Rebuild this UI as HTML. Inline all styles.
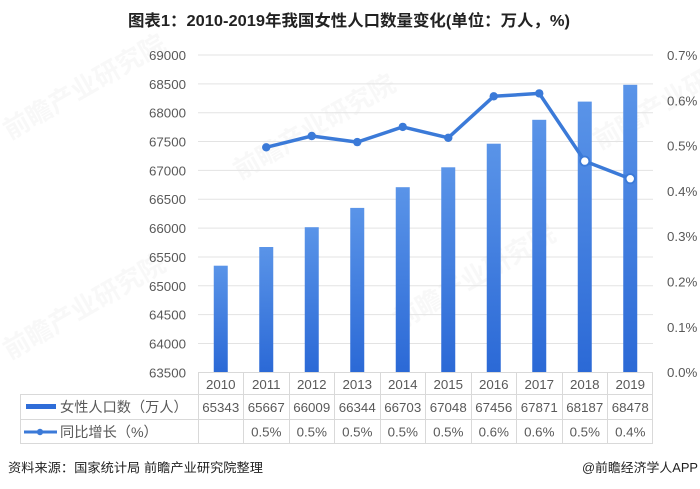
<!DOCTYPE html>
<html><head><meta charset="utf-8"><style>
html,body{margin:0;padding:0;background:#fff;}
svg{display:block;}
text{font-family:"Liberation Sans","Noto Sans CJK SC",sans-serif;}
</style></head><body>
<svg width="700" height="489" viewBox="0 0 700 489" xmlns="http://www.w3.org/2000/svg">
<defs>
<linearGradient id="bg" x1="0" y1="0" x2="0" y2="1">
<stop offset="0" stop-color="#5a94e8"/><stop offset="1" stop-color="#2b69d6"/>
</linearGradient>
</defs>
<rect width="700" height="489" fill="#fff"/>
<!-- watermarks -->
<g fill="#000" opacity="0.03" font-size="26" font-weight="bold">
<text x="10" y="140" transform="rotate(-30 10 140)">前瞻产业研究院</text>
<text x="240" y="180" transform="rotate(-30 240 180)">前瞻产业研究院</text>
<text x="10" y="360" transform="rotate(-30 10 360)">前瞻产业研究院</text>
<text x="400" y="330" transform="rotate(-30 400 330)">前瞻产业研究院</text>
<text x="600" y="150" transform="rotate(-30 600 150)">前瞻产业研究院</text>
</g>
<text x="128" y="26" font-size="16" font-weight="bold" fill="#222" textLength="442" lengthAdjust="spacingAndGlyphs">图表1：2010-2019年我国女性人口数量变化(单位：万人，%)</text>
<!-- grid -->
<g stroke="#e3e3e3" stroke-width="1">
<line x1="198" x2="653" y1="55" y2="55"/>
<line x1="198" x2="653" y1="83.85" y2="83.85"/>
<line x1="198" x2="653" y1="112.7" y2="112.7"/>
<line x1="198" x2="653" y1="141.55" y2="141.55"/>
<line x1="198" x2="653" y1="170.4" y2="170.4"/>
<line x1="198" x2="653" y1="199.25" y2="199.25"/>
<line x1="198" x2="653" y1="228.1" y2="228.1"/>
<line x1="198" x2="653" y1="256.95" y2="256.95"/>
<line x1="198" x2="653" y1="285.8" y2="285.8"/>
<line x1="198" x2="653" y1="314.65" y2="314.65"/>
<line x1="198" x2="653" y1="343.5" y2="343.5"/>
</g>
<!-- left axis -->
<g font-size="13.3" fill="#595959" text-anchor="end">
<text x="186" y="60">69000</text>
<text x="186" y="88.8">68500</text>
<text x="186" y="117.7">68000</text>
<text x="186" y="146.5">67500</text>
<text x="186" y="175.4">67000</text>
<text x="186" y="204.2">66500</text>
<text x="186" y="233.1">66000</text>
<text x="186" y="261.9">65500</text>
<text x="186" y="290.8">65000</text>
<text x="186" y="319.6">64500</text>
<text x="186" y="348.5">64000</text>
<text x="186" y="377.3">63500</text>
</g>
<!-- right axis -->
<g font-size="13.3" fill="#595959">
<text x="667" y="60">0.7%</text>
<text x="667" y="105.3">0.6%</text>
<text x="667" y="150.6">0.5%</text>
<text x="667" y="195.9">0.4%</text>
<text x="667" y="241.2">0.3%</text>
<text x="667" y="286.5">0.2%</text>
<text x="667" y="331.8">0.1%</text>
<text x="667" y="377.1">0.0%</text>
</g>
<!-- bars -->
<g fill="url(#bg)">
<rect x="213.75" y="265.7" width="14" height="106.3"/>
<rect x="259.25" y="247" width="14" height="125"/>
<rect x="304.75" y="227.2" width="14" height="144.8"/>
<rect x="350.25" y="207.9" width="14" height="164.1"/>
<rect x="395.75" y="187.2" width="14" height="184.8"/>
<rect x="441.25" y="167.3" width="14" height="204.7"/>
<rect x="486.75" y="143.7" width="14" height="228.3"/>
<rect x="532.25" y="119.8" width="14" height="252.2"/>
<rect x="577.75" y="101.6" width="14" height="270.4"/>
<rect x="623.25" y="84.8" width="14" height="287.2"/>
</g>
<!-- line -->
<polyline fill="none" stroke="#3b7ad8" stroke-width="3.5" stroke-linejoin="round" points="266.25,147.3 311.75,136 357.25,142.1 402.75,126.9 448.25,137.8 493.75,96.3 539.25,93.4 584.75,161.1 630.25,178.7"/>
<g fill="#3b7ad8">
<circle cx="266.25" cy="147.3" r="4.2"/>
<circle cx="311.75" cy="136" r="4.2"/>
<circle cx="357.25" cy="142.1" r="4.2"/>
<circle cx="402.75" cy="126.9" r="4.2"/>
<circle cx="448.25" cy="137.8" r="4.2"/>
<circle cx="493.75" cy="96.3" r="4.2"/>
<circle cx="539.25" cy="93.4" r="4.2"/>
</g>
<g fill="#fff" stroke="#3b7ad8" stroke-width="1.8">
<circle cx="584.75" cy="161.1" r="4.6"/>
<circle cx="630.25" cy="178.7" r="4.6"/>
</g>
<!-- table -->
<g stroke="#d9d9d9" stroke-width="1">
<line x1="198" x2="653" y1="372.5" y2="372.5"/>
<line x1="20" x2="653" y1="394.5" y2="394.5"/>
<line x1="20" x2="653" y1="419.5" y2="419.5"/>
<line x1="20" x2="653" y1="443.5" y2="443.5"/>
<line x1="20.5" x2="20.5" y1="394" y2="444"/>
<line x1="198.5" x2="198.5" y1="372" y2="444"/>
<line x1="243.5" x2="243.5" y1="372" y2="444"/>
<line x1="289.5" x2="289.5" y1="372" y2="444"/>
<line x1="334.5" x2="334.5" y1="372" y2="444"/>
<line x1="380.5" x2="380.5" y1="372" y2="444"/>
<line x1="425.5" x2="425.5" y1="372" y2="444"/>
<line x1="471.5" x2="471.5" y1="372" y2="444"/>
<line x1="516.5" x2="516.5" y1="372" y2="444"/>
<line x1="562.5" x2="562.5" y1="372" y2="444"/>
<line x1="607.5" x2="607.5" y1="372" y2="444"/>
<line x1="652.5" x2="652.5" y1="372" y2="444"/>
</g>
<g font-size="13.3" fill="#595959" text-anchor="middle">
<text x="220.75" y="389">2010</text><text x="266.25" y="389">2011</text><text x="311.75" y="389">2012</text><text x="357.25" y="389">2013</text><text x="402.75" y="389">2014</text><text x="448.25" y="389">2015</text><text x="493.75" y="389">2016</text><text x="539.25" y="389">2017</text><text x="584.75" y="389">2018</text><text x="630.25" y="389">2019</text>
<text x="220.75" y="412">65343</text><text x="266.25" y="412">65667</text><text x="311.75" y="412">66009</text><text x="357.25" y="412">66344</text><text x="402.75" y="412">66703</text><text x="448.25" y="412">67048</text><text x="493.75" y="412">67456</text><text x="539.25" y="412">67871</text><text x="584.75" y="412">68187</text><text x="630.25" y="412">68478</text>
<text x="266.25" y="436.5">0.5%</text><text x="311.75" y="436.5">0.5%</text><text x="357.25" y="436.5">0.5%</text><text x="402.75" y="436.5">0.5%</text><text x="448.25" y="436.5">0.5%</text><text x="493.75" y="436.5">0.6%</text><text x="539.25" y="436.5">0.6%</text><text x="584.75" y="436.5">0.5%</text><text x="630.25" y="436.5">0.4%</text>
</g>
<rect x="26" y="404" width="30" height="5" fill="#2f6dd8"/>
<text x="60" y="412" font-size="14.2" fill="#595959">女性人口数（万人）</text>
<line x1="24" x2="57" y1="432" y2="432" stroke="#3b7ad8" stroke-width="3"/>
<circle cx="40" cy="432" r="3.2" fill="#3b7ad8"/>
<text x="60" y="437" font-size="14.2" fill="#595959">同比增长（%）</text>
<!-- footer -->
<text x="8" y="472" font-size="12.5" fill="#222" textLength="255" lengthAdjust="spacingAndGlyphs">资料来源：国家统计局 前瞻产业研究院整理</text>
<text x="582" y="472" font-size="12.5" fill="#222" textLength="116" lengthAdjust="spacingAndGlyphs">@前瞻经济学人APP</text>
</svg>
</body></html>
